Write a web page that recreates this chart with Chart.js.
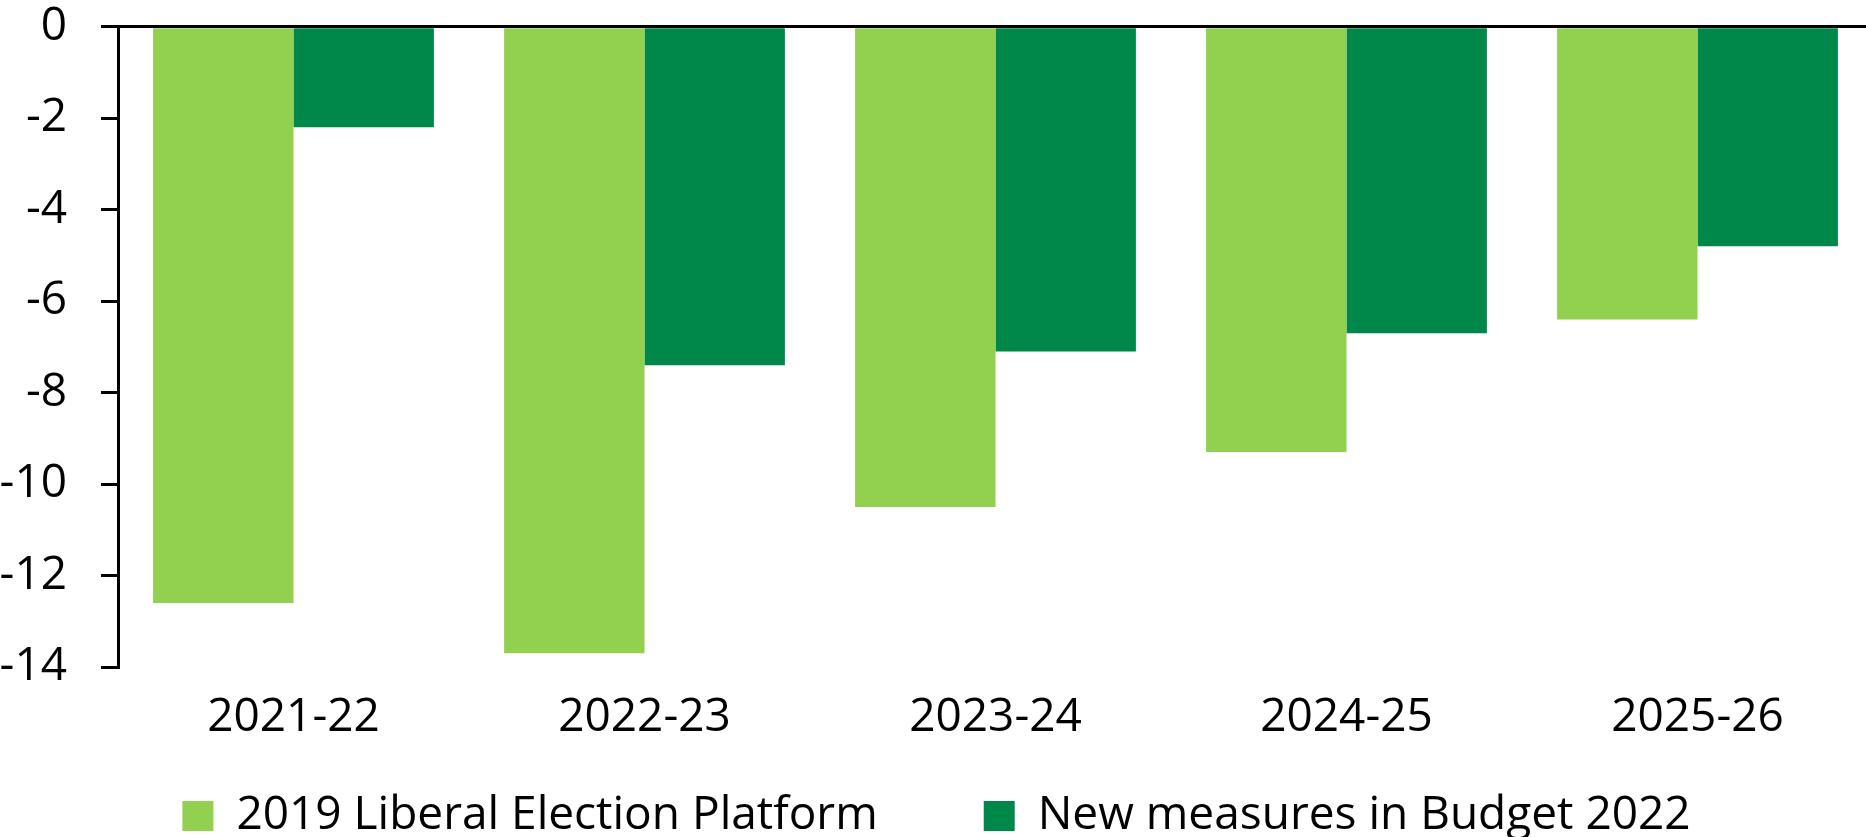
<!DOCTYPE html>
<html>
<head>
<meta charset="utf-8">
<script src="https://cdn.jsdelivr.net/npm/chart.js@4.4.1/dist/chart.umd.min.js"></script>
<style>
  html, body { margin: 0; padding: 0; background: #ffffff; overflow: hidden; }
  #wrap { position: absolute; left: 0; top: 0; width: 1873px; height: 849px; }
</style>
</head>
<body>
<div id="wrap"><canvas id="chart"></canvas></div>
<script>
// Fiscal years on the category axis
const categories = ['2021-22', '2022-23', '2023-24', '2024-25', '2025-26'];
// Cost of measures, $ billions
const platform2019 = [-12.6, -13.7, -10.5, -9.3, -6.4];
const budget2022 = [-2.2, -7.4, -7.1, -6.7, -4.8];
// Value-axis ticks
const yTicks = [0, -2, -4, -6, -8, -10, -12, -14];

const FONT = "'Open Sans', 'DejaVu Sans', sans-serif";

new Chart(document.getElementById('chart'), {
  type: 'bar',
  data: {
    labels: categories,
    datasets: [
      {
        label: '2019 Liberal Election Platform',
        data: platform2019,
        backgroundColor: '#92D050',
        borderWidth: 0
      },
      {
        label: 'New measures in Budget 2022',
        data: budget2022,
        backgroundColor: '#00884B',
        borderWidth: 0
      }
    ]
  },
  options: {
    responsive: true,
    maintainAspectRatio: false,
    animation: false,
    layout: { padding: 0 },
    datasets: {
      bar: { categoryPercentage: 0.8, barPercentage: 1.0 }
    },
    scales: {
      x: {
        position: 'bottom',
        grid: { display: false, drawTicks: false },
        border: { display: false },
        ticks: {
          color: '#000000',
          mirror: true,          // labels hang below the short axis box without clipping
          padding: -78,
          font: { family: FONT, size: 46, lineHeight: 1.16 }
        },
        // keep the category band thin so the legend can sit close beneath it
        afterFit: (scale) => { scale.height = 20; }
      },
      y: {
        min: -14,
        max: 0,
        afterBuildTicks: (scale) => { scale.ticks = yTicks.map(v => ({ value: v })); },
        afterFit: (scale) => {
          scale.width = 118;
          scale.paddingTop = 26.7;
        },
        grid: {
          color: (ctx) => (ctx.tick && ctx.tick.value === 0 ? '#000000' : 'rgba(0,0,0,0)'),
          lineWidth: 3,
          drawTicks: true,
          tickLength: 17,
          tickColor: '#000000',
          tickWidth: 3
        },
        border: { display: true, color: '#000000', width: 3 },
        ticks: {
          color: '#000000',
          padding: 34,
          font: { family: FONT, size: 46, lineHeight: 1.16 }
        }
      }
    },
    plugins: {
      tooltip: { enabled: false },
      legend: {
        position: 'bottom',
        labels: {
          color: '#000000',
          boxWidth: 31,
          boxHeight: 30,
          padding: 106,
          font: { family: FONT, size: 46 }
        }
      }
    }
  }
});
</script>
</body>
</html>
